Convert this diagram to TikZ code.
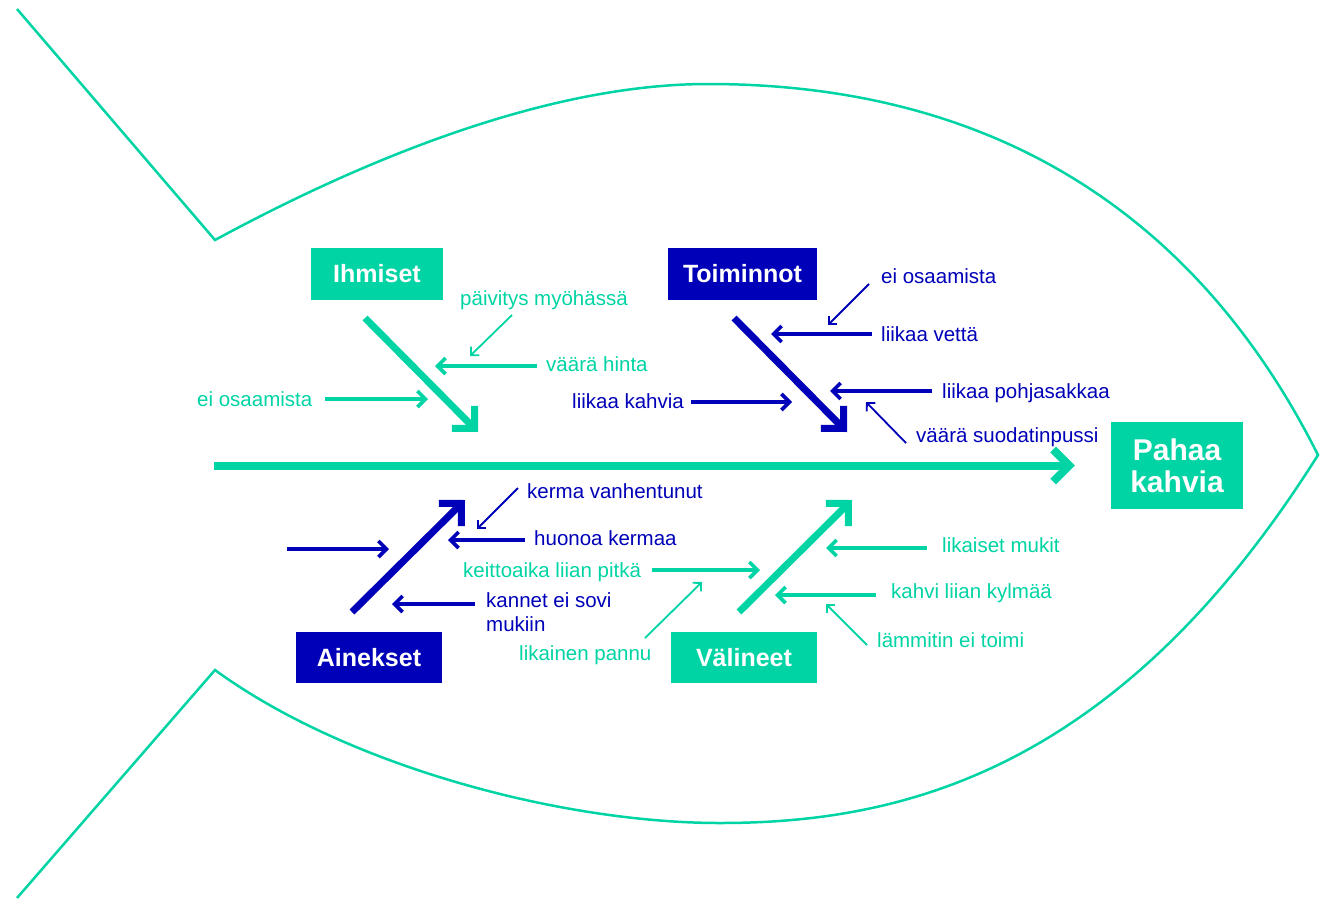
\documentclass[tikz,border=0pt]{standalone}
\usepackage{fontspec}
\setmainfont{Liberation Sans}
\usetikzlibrary{arrows.meta,positioning}
\definecolor{fishgreen}{HTML}{00D4A4}
\definecolor{fishblue}{HTML}{0000B8}

\begin{document}
\begin{tikzpicture}[x=1pt,y=-1pt,
  catbox/.style={fill=#1,text=white,inner sep=0,font=\fontsize{25}{28}\selectfont\bfseries},
  lbl/.style={text=#1,inner sep=0,anchor=base west,font=\fontsize{20.5}{24}\selectfont},
  bone/.style={draw=#1,line width=7pt,-{Straight Barb[sharp,length=16pt,width=32pt]}},
  rib/.style={draw=#1,line width=3.7pt,-{Straight Barb[sharp,length=8pt,width=16pt]}},
  twig/.style={draw=#1,line width=1.8pt,-{Straight Barb[sharp,length=6pt,width=12pt]}},
  outline/.style={draw=fishgreen,line width=2.5pt,line join=miter}]
  \useasboundingbox (0,0) rectangle (1334,900);

  % fish outline
  \draw[outline] (17,9) -- (215,240)
    .. controls (385,148) and (560,84) .. (708,84)
    .. controls (1000,84) and (1200,220) .. (1318,455)
    .. controls (1118,773) and (900,823) .. (720,823)
    .. controls (560,823) and (345,765) .. (215,670) -- (17,898);

  % categories and effect
  \node[catbox=fishgreen,minimum width=132pt,minimum height=52pt] (ihmiset) at (377,274) {Ihmiset};
  \node[catbox=fishblue,minimum width=149pt,minimum height=52pt] (toiminnot) at (742.5,274) {Toiminnot};
  \node[catbox=fishblue,minimum width=146pt,minimum height=51pt] (ainekset) at (369,657.5) {Ainekset};
  \node[catbox=fishgreen,minimum width=146pt,minimum height=51pt] (valineet) at (744,657.5) {Välineet};
  \node[catbox=fishgreen,minimum width=132pt,minimum height=87pt,align=center,
        font=\fontsize{30}{32}\selectfont\bfseries] (effect) at (1177,465.5) {Pahaa\\kahvia};

  % spine and bones
  \coordinate (tail) at (214,465.5);
  \draw[bone=fishgreen,line width=8pt,shorten >=36pt] (tail) -- (tail -| effect.west);
  \foreach \nm/\col/\ax/\ay/\bx/\by in {ih/fishgreen/365/318/478/432, to/fishblue/734/318/847/432,
      ai/fishblue/352/612/465/500, va/fishgreen/739/612/852/500}{
    \coordinate (\nm-a) at (\ax,\ay);
    \coordinate (\nm-b) at (\bx,\by);
    \draw[bone=\col] (\nm-a) -- (\nm-b);
  }

  % causes with straight arrows
  \foreach \nm/\col/\lx/\ly/\txt/\tx/\ty/\side/\gap in {
      ih2/fishgreen/546/371/{väärä hinta}/435/366/west/9pt,
      ih3/fishgreen/197/406/{ei osaamista}/428/399/east/13pt,
      to2/fishblue/881/341/{liikaa vettä}/771/334/west/9pt,
      to3/fishblue/942/398/{liikaa pohjasakkaa}/830/391/west/10pt,
      to4/fishblue/572/408/{liikaa kahvia}/792/402/east/7pt,
      ai2/fishblue/534/545/{huonoa kermaa}/448/540/west/9pt,
      va1/fishgreen/463/577/{keittoaika liian pitkä}/760/570/east/11pt,
      va3/fishgreen/942/552/{likaiset mukit}/826/548/west/15pt,
      va4/fishgreen/891/598/{kahvi liian kylmää}/775/595/west/15pt}{
    \node[lbl=\col] (\nm) at (\lx,\ly) {\txt};
    \coordinate (\nm-tip) at (\tx,\ty);
    \draw[rib=\col,shorten <=\gap] (\nm-tip -| \nm.\side) -- (\nm-tip);
  }
  \node[lbl=fishblue,align=left,anchor=north west] (ai3) at (486,592) {kannet ei sovi\\mukiin};
  \coordinate (ai3-tip) at (392,604);
  \draw[rib=fishblue,shorten <=11pt] (ai3-tip -| ai3.west) -- (ai3-tip);
  \coordinate (ai4-a) at (287,549);
  \coordinate (ai4-tip) at (389,549);
  \draw[rib=fishblue] (ai4-a) -- (ai4-tip);

  % causes with slanted arrows
  \foreach \nm/\col/\lx/\ly/\txt/\sx/\sy/\tx/\ty in {
      ih1/fishgreen/460/305/{päivitys myöhässä}/512/315/470/356,
      to1/fishblue/881/283/{ei osaamista}/869/284/828/325,
      to5/fishblue/916/442/{väärä suodatinpussi}/906/443/866/402,
      ai1/fishblue/527/498/{kerma vanhentunut}/518/488/477/529,
      va2/fishgreen/519/660/{likainen pannu}/645/638/702/582,
      va5/fishgreen/877/647/{lämmitin ei toimi}/867/645/826/604}{
    \node[lbl=\col] (\nm) at (\lx,\ly) {\txt};
    \coordinate (\nm-s) at (\sx,\sy);
    \coordinate (\nm-tip) at (\tx,\ty);
    \draw[twig=\col] (\nm-s) -- (\nm-tip);
  }
\end{tikzpicture}
\end{document}
